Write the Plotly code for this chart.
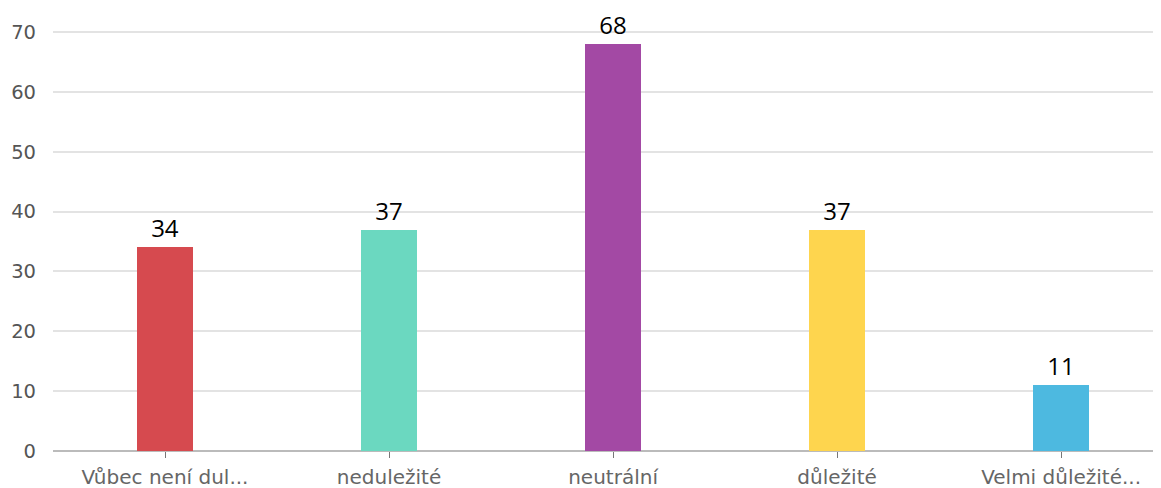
import plotly.graph_objects as go

categories = ["Vůbec není dul...", "neduležité", "neutrální", "důležité", "Velmi důležité..."]
values = [34, 37, 68, 37, 11]
colors = ["#d64a4f", "#6bd8c0", "#a349a4", "#fed54e", "#4db9e0"]
y_ticks = [0, 10, 20, 30, 40, 50, 60, 70]

fig = go.Figure(go.Bar(
    x=categories, y=values,
    marker=dict(color=colors, line=dict(width=0)),
    width=0.25,
    text=[str(v) for v in values],
    textposition="outside",
    textfont=dict(family="Open Sans, sans-serif", size=24, color="#000000"),
    cliponaxis=False,
))

# page body has an 8px default margin; size the figure to fill the rest
fig.update_layout(
    width=1153, height=480,
    margin=dict(l=45, r=0, t=12, b=37, autoexpand=False),
    paper_bgcolor="white", plot_bgcolor="white",
    showlegend=False,
    bargap=0,
    xaxis=dict(
        range=[-0.5, 4.446],
        automargin=False,
        showgrid=False,
        showline=False,
        ticks="outside", ticklen=6, tickcolor="#777777", tickwidth=1,
        tickfont=dict(family="DejaVu Sans, sans-serif", size=20, color="#666666"),
        ticklabelstandoff=2,
        zeroline=False,
    ),
    yaxis=dict(
        range=[0, 72],
        automargin=False,
        tickvals=y_ticks,
        showgrid=True, gridcolor="#e3e3e3", gridwidth=1.5,
        zeroline=True, zerolinecolor="#bbbbbb", zerolinewidth=1.5,
        tickfont=dict(family="DejaVu Sans, sans-serif", size=19.5, color="#555555"),
        ticklabelstandoff=16,
        showline=False,
    ),
)

fig.write_html("out.html")
